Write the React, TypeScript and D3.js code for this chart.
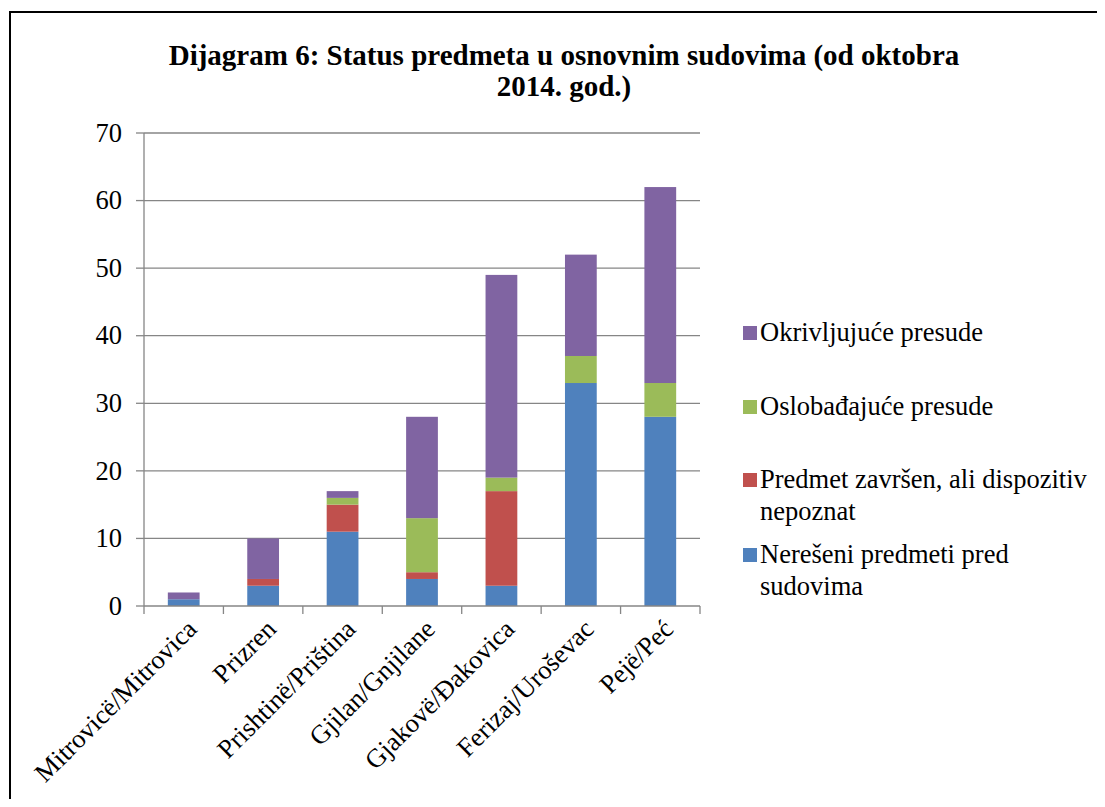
import { useEffect, useRef } from 'react';
import * as d3 from 'd3';

// Courts (categories)
const courts = [
  'Mitrovicë/Mitrovica',
  'Prizren',
  'Prishtinë/Priština',
  'Gjilan/Gnjilane',
  'Gjakovë/Đakovica',
  'Ferizaj/Uroševac',
  'Pejë/Peć',
];

// Series values, bottom to top
const pending = [1, 3, 11, 4, 3, 33, 28];
const unknownOutcome = [0, 1, 4, 1, 14, 0, 0];
const acquittals = [0, 0, 1, 8, 2, 4, 5];
const convictions = [1, 6, 1, 15, 30, 15, 29];

const seriesColors = ['#4f81bd', '#c0504d', '#9bbb59', '#8064a2'];

// legend lines (top to bottom, as shown)
const legendLines = [
  ['Okrivljujuće presude'],
  ['Oslobađajuće presude'],
  ['Predmet završen, ali dispozitiv', 'nepoznat'],
  ['Nerešeni predmeti pred', 'sudovima'],
];

const yTicks = [0, 10, 20, 30, 40, 50, 60, 70];

const WIDTH = 1105;
const HEIGHT = 807;
const FONT = 'Liberation Serif';

export default function App() {
  const svgRef = useRef<SVGSVGElement>(null);

  useEffect(() => {
    if (!svgRef.current) return;
    const svg = d3.select(svgRef.current);
    svg.selectAll('*').remove();

    const margin = { left: 144, right: 405, top: 133, bottom: 201 };
    const plotW = WIDTH - margin.left - margin.right;
    const plotH = HEIGHT - margin.top - margin.bottom;

    // outer frame
    svg
      .append('rect')
      .attr('x', 10)
      .attr('y', 12)
      .attr('width', WIDTH + 20)
      .attr('height', HEIGHT + 20)
      .attr('fill', 'white')
      .attr('stroke', '#000')
      .attr('stroke-width', 2);

    // title
    const title = svg
      .append('text')
      .attr('text-anchor', 'middle')
      .attr('font-family', FONT)
      .attr('font-weight', 'bold')
      .attr('font-size', 29)
      .attr('fill', '#000');
    title.append('tspan').attr('x', 564).attr('y', 65).text('Dijagram 6: Status predmeta u osnovnim sudovima (od oktobra');
    title.append('tspan').attr('x', 564).attr('y', 96).text('2014. god.)');

    const g = svg.append('g').attr('transform', `translate(${margin.left},${margin.top})`);

    const x = d3.scaleBand<string>().domain(courts).range([0, plotW]).paddingInner(0.6).paddingOuter(0.3);
    const band = plotW / courts.length;
    const y = d3.scaleLinear().domain([0, 70]).range([plotH, 0]);

    // gridlines
    g.selectAll('.grid')
      .data(yTicks.filter((t) => t > 0))
      .join('line')
      .attr('x1', 0)
      .attr('x2', plotW)
      .attr('y1', (d) => y(d))
      .attr('y2', (d) => y(d))
      .attr('stroke', '#868686')
      .attr('stroke-width', 1.3);

    // stack
    const rows = courts.map((c, i) => ({
      court: c,
      s0: pending[i],
      s1: unknownOutcome[i],
      s2: acquittals[i],
      s3: convictions[i],
    }));
    const stack = d3.stack<any>().keys(['s0', 's1', 's2', 's3'])(rows);

    stack.forEach((layer, li) => {
      g.append('g')
        .selectAll('rect')
        .data(layer.filter((d) => d[1] - d[0] > 0))
        .join('rect')
        .attr('x', (d) => x(d.data.court)!)
        .attr('width', x.bandwidth())
        .attr('y', (d) => y(d[1]))
        .attr('height', (d) => y(d[0]) - y(d[1]))
        .attr('fill', seriesColors[li]);
    });

    // y axis
    g.append('line')
      .attr('x1', 0)
      .attr('x2', 0)
      .attr('y1', 0)
      .attr('y2', plotH)
      .attr('stroke', '#868686')
      .attr('stroke-width', 1.3);
    g.selectAll('.ytick')
      .data(yTicks)
      .join('line')
      .attr('x1', -8)
      .attr('x2', 0)
      .attr('y1', (d) => y(d))
      .attr('y2', (d) => y(d))
      .attr('stroke', '#868686')
      .attr('stroke-width', 1.3);
    g.selectAll('.ylab')
      .data(yTicks)
      .join('text')
      .attr('x', -22)
      .attr('y', (d) => y(d))
      .attr('dy', '0.33em')
      .attr('text-anchor', 'end')
      .attr('font-family', FONT)
      .attr('font-size', 26.5)
      .attr('fill', '#000')
      .text((d) => d);

    // x axis
    g.append('line')
      .attr('x1', 0)
      .attr('x2', plotW)
      .attr('y1', plotH)
      .attr('y2', plotH)
      .attr('stroke', '#868686')
      .attr('stroke-width', 1.3);
    g.selectAll('.xtick')
      .data(d3.range(courts.length + 1))
      .join('line')
      .attr('x1', (d) => d * band)
      .attr('x2', (d) => d * band)
      .attr('y1', plotH)
      .attr('y2', plotH + 8)
      .attr('stroke', '#868686')
      .attr('stroke-width', 1.3);
    g.selectAll('.xlab')
      .data(courts)
      .join('text')
      .attr(
        'transform',
        (d) => `translate(${x(d)! + x.bandwidth() / 2 + 8},${plotH + 18}) rotate(-45)`
      )
      .attr('text-anchor', 'end')
      .attr('dy', '0.35em')
      .attr('font-family', FONT)
      .attr('font-size', 26.5)
      .attr('fill', '#000')
      .text((d) => d);

    // legend
    const legendBase = [341, 415, 488, 563];
    const legendColors = [...seriesColors].reverse();
    legendLines.forEach((lines, i) => {
      const lg = svg.append('g').attr('transform', `translate(743,${legendBase[i]})`);
      lg.append('rect')
        .attr('x', 0)
        .attr('y', -15)
        .attr('width', 14)
        .attr('height', 14)
        .attr('fill', legendColors[i]);
      const t = lg
        .append('text')
        .attr('font-family', FONT)
        .attr('font-size', 26.5)
        .attr('fill', '#000');
      lines.forEach((line, j) => {
        t.append('tspan')
          .attr('x', 17)
          .attr('y', j * 32)
          .text(line);
      });
    });
  }, []);

  return <svg ref={svgRef} width={WIDTH} height={HEIGHT} style={{ display: 'block', margin: '-8px' }} />;
}
